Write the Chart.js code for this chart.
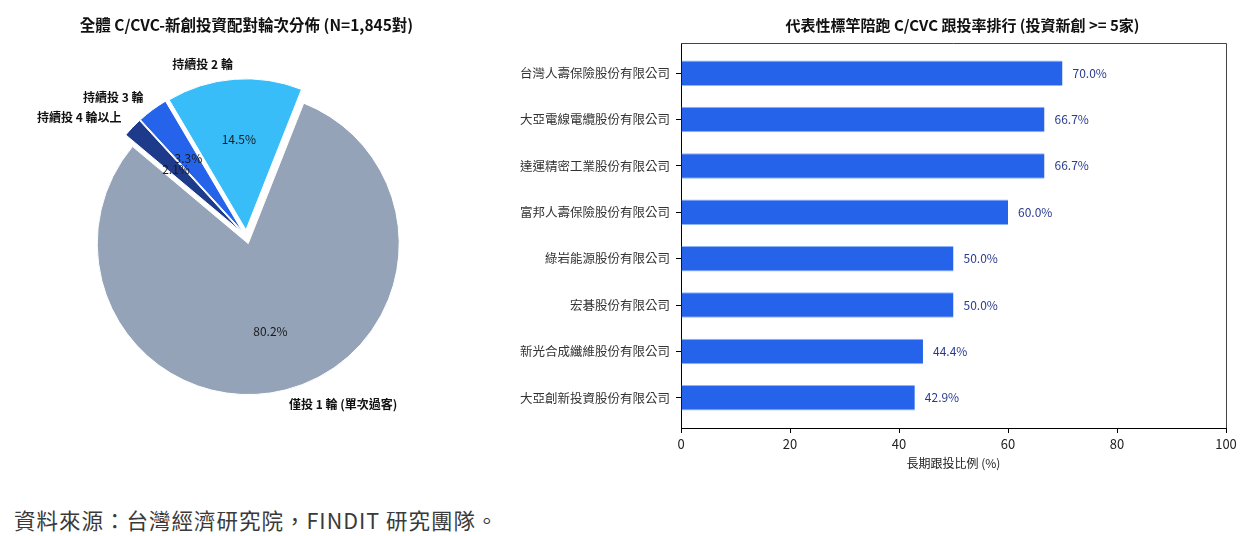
<!DOCTYPE html>
<html>
<head>
<meta charset="utf-8">
<script src="https://cdn.jsdelivr.net/npm/chart.js@4.4.1/dist/chart.umd.min.js"></script>
<style>
  body { margin: 0; background: #fff; width: 1245px; height: 536px; position: relative; overflow: hidden; }
  #pie { position: absolute; left: 0; top: 0; }
  #bars { position: absolute; left: 490px; top: 0; }
  .source { position: absolute; left: 14px; top: 504px; font: 21.5px "Noto Sans CJK TC", "Noto Sans", sans-serif; letter-spacing: 1px; color: #3a3a3a; white-space: nowrap; }
</style>
</head>
<body>
<canvas id="pie" width="492" height="480"></canvas>
<canvas id="bars" width="755" height="480"></canvas>
<div class="source">資料來源：台灣經濟研究院，FINDIT 研究團隊。</div>

<script>
const FONT = '"Noto Sans CJK TC", "Noto Sans", sans-serif';

// left chart: rounds per pair
const pieLabels = ['僅投 1 輪 (單次過客)', '持續投 2 輪', '持續投 3 輪', '持續投 4 輪以上'];
const pieValues = [80.2, 14.5, 3.3, 2.1];
const pieColors = ['#94A3B8', '#38BDF8', '#2563EB', '#1E3A8A'];

// right chart: follow-on rate ranking
const barCategories = [
  '台灣人壽保險股份有限公司',
  '大亞電線電纜股份有限公司',
  '達運精密工業股份有限公司',
  '富邦人壽保險股份有限公司',
  '綠岩能源股份有限公司',
  '宏碁股份有限公司',
  '新光合成纖維股份有限公司',
  '大亞創新投資股份有限公司'
];
const barValues = [70.0, 66.7, 66.7, 60.0, 50.0, 50.0, 44.4, 42.9];
const xTickStep = 20;

const EXPLODE = 7;
const RADIUS = 151;

// matplotlib draws counter-clockwise from 140deg; chart.js goes clockwise, so reverse
const pieOrder = pieValues.map((v, i) => i).reverse();

// push every wedge out a little along its middle angle
const explodePlugin = {
  id: 'explode',
  afterDatasetUpdate(chart) {
    chart.getDatasetMeta(0).data.forEach((arc) => {
      const mid = (arc.startAngle + arc.endAngle) / 2;
      arc.x += Math.cos(mid) * EXPLODE;
      arc.y += Math.sin(mid) * EXPLODE;
    });
  }
};

const pieLabelPlugin = {
  id: 'pieLabels',
  afterDatasetsDraw(chart) {
    const ctx = chart.ctx;
    ctx.save();
    ctx.textBaseline = 'middle';
    chart.getDatasetMeta(0).data.forEach((arc, i) => {
      const k = pieOrder[i];
      const mid = (arc.startAngle + arc.endAngle) / 2;
      const c = Math.cos(mid), s = Math.sin(mid);
      // percentage inside
      ctx.font = '12px ' + FONT;
      ctx.fillStyle = '#1a1a1a';
      ctx.textAlign = 'center';
      ctx.fillText(pieValues[k].toFixed(1) + '%', arc.x + c * RADIUS * 0.6, arc.y + s * RADIUS * 0.6);
      // category name outside
      ctx.font = 'bold 12px ' + FONT;
      ctx.fillStyle = '#111';
      ctx.textAlign = c > 0 ? 'left' : 'right';
      ctx.fillText(pieLabels[k], arc.x + c * RADIUS * 1.1, arc.y + s * RADIUS * 1.1);
    });
    ctx.restore();
  }
};

new Chart(document.getElementById('pie'), {
  type: 'pie',
  data: {
    labels: pieOrder.map((i) => pieLabels[i]),
    datasets: [{
      data: pieOrder.map((i) => pieValues[i]),
      backgroundColor: pieOrder.map((i) => pieColors[i]),
      borderColor: '#fff',
      borderWidth: 1
    }]
  },
  options: {
    responsive: false,
    animation: false,
    events: [],
    rotation: -50,
    radius: RADIUS,
    layout: { padding: { top: 0, bottom: 41, left: 1, right: 0 } },
    plugins: {
      legend: { display: false },
      tooltip: { enabled: false },
      title: {
        display: true,
        text: '全體 C/CVC-新創投資配對輪次分佈 (N=1,845對)',
        color: '#111',
        font: { family: FONT, size: 15.5, weight: 'bold' },
        padding: { top: 16, bottom: 0 }
      }
    }
  },
  plugins: [explodePlugin, pieLabelPlugin]
});

// bar title centred over the axes, box spines, value labels
const barExtras = {
  id: 'barExtras',
  afterDraw(chart) {
    const ctx = chart.ctx;
    const a = chart.chartArea;
    ctx.save();
    ctx.strokeStyle = '#444';
    ctx.lineWidth = 1;
    ctx.beginPath();
    ctx.moveTo(a.left, a.top + 0.5);
    ctx.lineTo(a.right + 0.5, a.top + 0.5);
    ctx.lineTo(a.right + 0.5, a.bottom);
    ctx.stroke();

    ctx.font = 'bold 15px ' + FONT;
    ctx.fillStyle = '#111';
    ctx.textAlign = 'center';
    ctx.textBaseline = 'middle';
    ctx.fillText('代表性標竿陪跑 C/CVC 跟投率排行 (投資新創 >= 5家)', (a.left + a.right) / 2 + 9, 25);

    ctx.font = '12px ' + FONT;
    ctx.fillStyle = '#2a3b8f';
    ctx.textAlign = 'left';
    chart.getDatasetMeta(0).data.forEach((bar, i) => {
      ctx.fillText(barValues[i].toFixed(1) + '%', bar.x + 10, bar.y);
    });
    ctx.restore();
  }
};

new Chart(document.getElementById('bars'), {
  type: 'bar',
  data: {
    datasets: [{
      data: barValues.map((v, i) => ({ x: v, y: i })),
      backgroundColor: '#2563EB',
      borderColor: '#8fb4f7',
      borderWidth: { top: 1, bottom: 1, left: 0, right: 0 },
      borderSkipped: false,
      barPercentage: 0.55,
      categoryPercentage: 1
    }]
  },
  options: {
    indexAxis: 'y',
    responsive: false,
    animation: false,
    events: [],
    layout: { padding: { top: 43, bottom: 5, left: 0, right: 19 } },
    plugins: {
      legend: { display: false },
      tooltip: { enabled: false }
    },
    scales: {
      x: {
        type: 'linear',
        min: 0,
        max: 100,
        ticks: { stepSize: xTickStep, color: '#222', font: { family: FONT, size: 13 }, padding: 3 },
        grid: { drawOnChartArea: false, tickLength: 5, color: '#000' },
        border: { color: '#000' },
        title: {
          display: true,
          text: '長期跟投比例 (%)',
          color: '#222',
          font: { family: FONT, size: 12 },
          padding: { top: 2, bottom: 4 }
        }
      },
      y: {
        type: 'linear',
        reverse: true,
        offset: false,
        min: -0.65,
        max: barCategories.length - 0.35,
        afterBuildTicks(scale) {
          scale.ticks = barCategories.map((c, i) => ({ value: i }));
        },
        afterFit(scale) {
          scale.width = 191;
        },
        ticks: {
          callback: (v) => barCategories[v],
          color: '#333',
          font: { family: FONT, size: 12.5 },
          padding: 6,
          autoSkip: false
        },
        grid: { offset: false, drawOnChartArea: false, tickLength: 5, color: '#000' },
        border: { color: '#000' }
      }
    }
  },
  plugins: [barExtras]
});
</script>
</body>
</html>
